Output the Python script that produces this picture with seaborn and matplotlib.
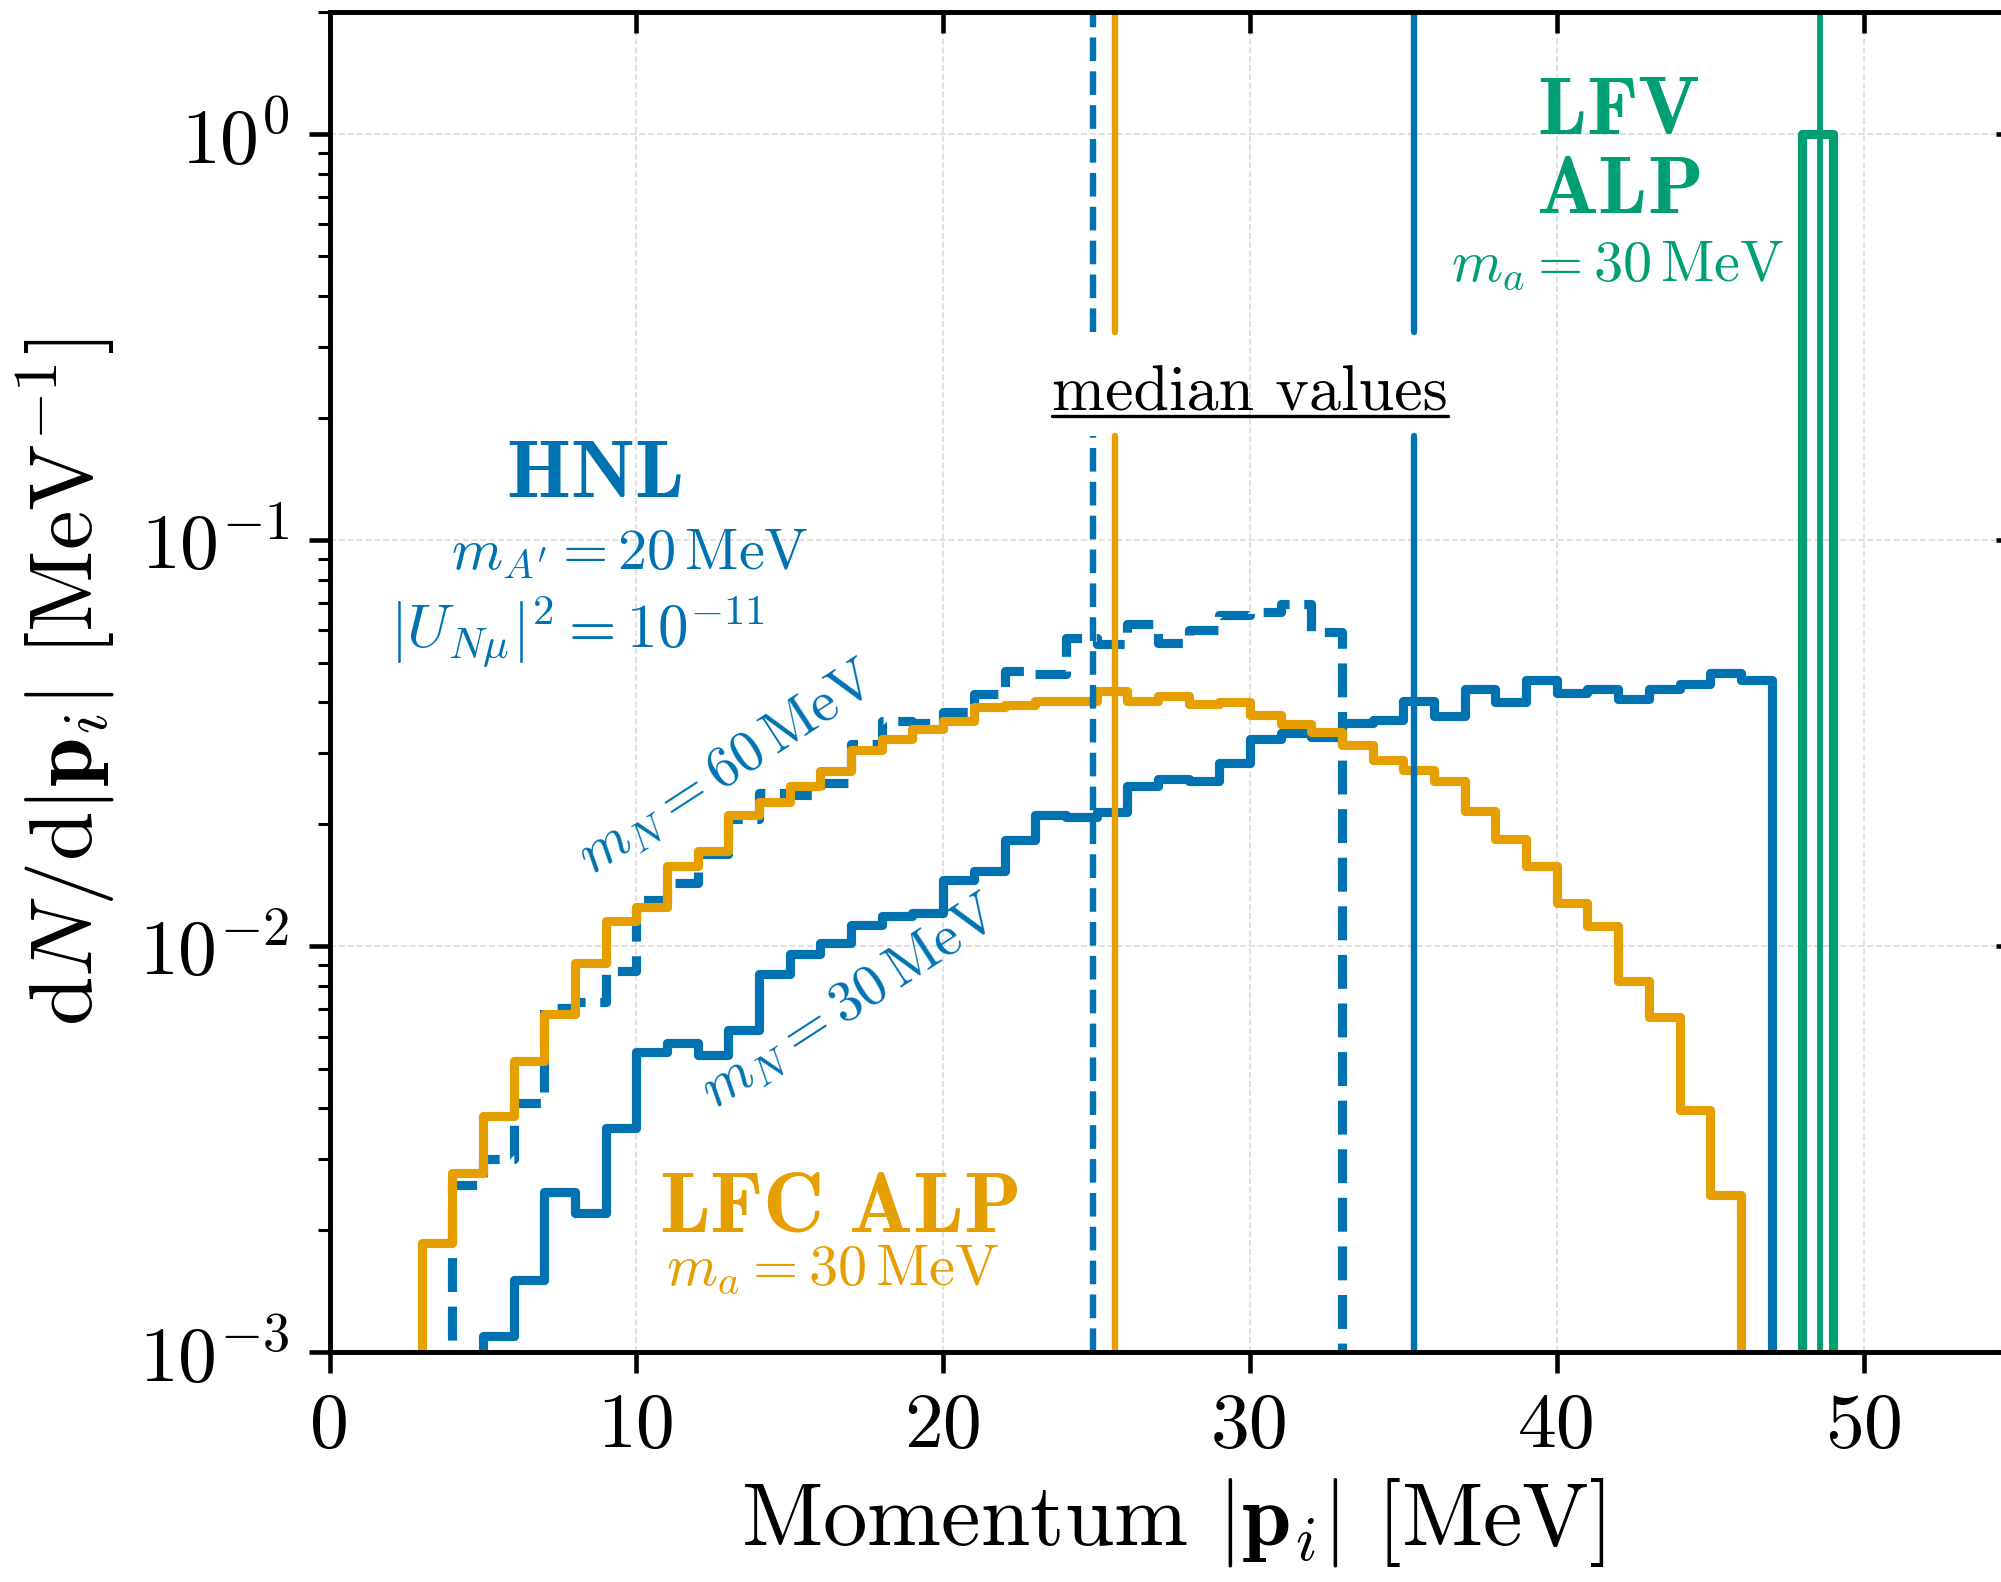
import numpy as np
import pandas as pd
import seaborn as sns
import matplotlib.pyplot as plt
from matplotlib.lines import Line2D
from matplotlib.ticker import LogLocator, NullFormatter

# ==========================================
# data: 1 MeV bins, values in MeV^-1
# ==========================================
hnl30_start = 4
hnl30_vals = [0, 0.00110, 0.00151, 0.00249, 0.00221, 0.00358, 0.00549, 0.00578,
              0.00541, 0.00621, 0.00855, 0.00958, 0.01019, 0.0113, 0.0119, 0.0121,
              0.0146, 0.0153, 0.0183, 0.0211, 0.0208, 0.0214, 0.0249, 0.0259,
              0.0256, 0.0283, 0.0325, 0.0335, 0.0327, 0.0355, 0.0362, 0.0402,
              0.0369, 0.0431, 0.0399, 0.0454, 0.0420, 0.0431, 0.0406, 0.0431,
              0.0443, 0.0472, 0.0452, 0]

hnl60_start = 3
hnl60_vals = [0, 0.00259, 0.0030, 0.00411, 0.00704, 0.0073, 0.0087, 0.0130,
              0.0143, 0.0169, 0.0206, 0.0238, 0.0236, 0.0252, 0.0316, 0.0358,
              0.0355, 0.0378, 0.0419, 0.0478, 0.0469, 0.0574, 0.0554, 0.0621,
              0.0558, 0.0600, 0.0656, 0.0665, 0.0697, 0.0594, 0]

lfc_start = 2
lfc_vals = [0, 0.00186, 0.00277, 0.00382, 0.00521, 0.00680, 0.00910, 0.01155,
            0.01253, 0.0158, 0.0172, 0.0211, 0.0227, 0.0249, 0.0270, 0.0305,
            0.0325, 0.0344, 0.0359, 0.0388, 0.0392, 0.0402, 0.0402, 0.0425,
            0.0402, 0.0413, 0.0396, 0.0400, 0.0371, 0.0353, 0.0337, 0.0313,
            0.0287, 0.0272, 0.0255, 0.0215, 0.0184, 0.0158, 0.0128, 0.01125,
            0.00822, 0.00669, 0.00395, 0.00244, 0]

lfv_start = 47
lfv_vals = [0, 1.0, 0]

# median momenta [MeV]
median_hnl60 = 24.9
median_lfc = 25.6
median_hnl30 = 35.35
median_lfv = 48.57

xticks = [0, 10, 20, 30, 40, 50]
xtick_labels = ['0', '10', '20', '30', '40', '50']
yticks = [1e-3, 1e-2, 1e-1, 1e0]
ytick_labels = [r'$10^{-3}$', r'$10^{-2}$', r'$10^{-1}$', r'$10^{0}$']

BLUE = '#0072B2'
ORANGE = '#E69F00'
GREEN = '#009E73'

# ==========================================
# style
# ==========================================
sns.set_theme(style='ticks')
plt.rcParams.update({
    'font.family': 'serif',
    'font.serif': ['cmr10'],
    'mathtext.fontset': 'cm',
    'axes.unicode_minus': False,
    'axes.formatter.use_mathtext': True,
    'axes.linewidth': 3.3,
    'axes.edgecolor': 'black',
    'axes.labelcolor': 'black',
    'text.color': 'black',
    'xtick.color': 'black',
    'ytick.color': 'black',
})

fig = plt.figure(figsize=(20.01, 15.82), dpi=100)
ax = fig.add_axes([0.16467, 0.14507, 0.84333, 0.84734])

LW = 6.6


def draw_hist(start, vals, **kw):
    edges = [float(start + i) for i in range(len(vals) + 1)]
    df = pd.DataFrame({'p': [e + 0.5 for e in edges[:-1]],
                       'w': [float(v) for v in vals]})
    sns.histplot(data=df, x='p', weights='w', bins=edges, element='step',
                 fill=False, ax=ax, lw=LW, **kw)


draw_hist(hnl30_start, hnl30_vals, color=BLUE)
draw_hist(hnl60_start, hnl60_vals, color=BLUE, ls='--')
draw_hist(lfc_start, lfc_vals, color=ORANGE)
draw_hist(lfv_start, lfv_vals, color=GREEN)

# median lines, interrupted around the "median values" label
gap_lo, gap_hi = 0.6837, 0.7613
for m, col, ls in [(median_hnl60, BLUE, '--'),
                   (median_lfc, ORANGE, '-'),
                   (median_hnl30, BLUE, '-')]:
    ax.axvline(m, ymin=0, ymax=gap_lo, color=col, ls=ls, lw=4.6)
    ax.axvline(m, ymin=gap_hi, ymax=1, color=col, ls=ls, lw=4.6)
ax.axvline(median_lfv, color=GREEN, lw=4.2)

ax.set_yscale('log')
ax.set_xlim(0, 55)
ax.set_ylim(1e-3, 2)

ax.set_xticks(xticks, labels=xtick_labels)
ax.set_yticks(yticks, labels=ytick_labels)
ax.yaxis.set_minor_locator(LogLocator(base=10, subs=np.arange(2, 10)))
ax.yaxis.set_minor_formatter(NullFormatter())
ax.tick_params(axis='both', which='major', direction='out', length=15,
               width=3.3, labelsize=56, pad=14, colors='black')
ax.tick_params(axis='y', which='minor', direction='out', length=9, width=2.2,
               colors='black')
ax.tick_params(axis='x', which='minor', bottom=False, top=False)

ax.grid(True, which='major', ls='--', lw=1.2, color='#dcdcdc')
ax.set_axisbelow(True)

# inward ticks on the top edge
tick_frac = 21.0 / 1340.5
for xt in xticks:
    ax.plot([xt, xt], [1.0, 1.0 - tick_frac], transform=ax.get_xaxis_transform(),
            color='black', lw=3.3, solid_capstyle='butt', clip_on=False, zorder=5)

# inward ticks on the right edge, via a twin axis
axr = ax.twinx()
axr.set_yscale('log')
axr.set_ylim(ax.get_ylim())
axr.set_yticks(yticks, labels=[''] * len(yticks))
axr.yaxis.set_minor_locator(LogLocator(base=10, subs=np.arange(2, 10)))
axr.yaxis.set_minor_formatter(NullFormatter())
axr.tick_params(axis='y', which='major', direction='in', length=15, width=3.3,
                right=True, left=False, labelright=False, colors='black')
axr.tick_params(axis='y', which='minor', direction='in', length=9, width=2.2,
                right=True, left=False, colors='black')

ax.set_xlabel(r'Momentum $|\mathbf{p}_i|$ [MeV]', fontsize=64, labelpad=10)
ax.set_ylabel(r'$\mathrm{d}N/\mathrm{d}|\mathbf{p}_i|\ [\mathrm{MeV}^{-1}]$',
              fontsize=64, labelpad=16)

# annotations
BOLD = 59
PAR = 42
ax.text(42.0, 1.0, r'$\mathbf{LFV}$', color=GREEN, fontsize=BOLD, ha='center', va='baseline')
ax.text(42.0, 0.640, r'$\mathbf{ALP}$', color=GREEN, fontsize=BOLD, ha='center', va='baseline')
ax.text(41.97, 0.4355, r'$m_a = 30\,\mathrm{MeV}$', color=GREEN, fontsize=PAR,
        ha='center', va='baseline')

ax.text(8.62, 0.1281, r'$\mathbf{HNL}$', color=BLUE, fontsize=BOLD, ha='center', va='baseline')
ax.text(9.79, 0.0852, r"$m_{A'} = 20\,\mathrm{MeV}$", color=BLUE, fontsize=PAR,
        ha='center', va='baseline')
ax.text(8.08, 0.05453, r'$|U_{N\mu}|^2 = 10^{-11}$', color=BLUE, fontsize=44,
        ha='center', va='baseline')
ax.text(12.99, 0.02742, r'$m_N = 60\,\mathrm{MeV}$', color=BLUE, fontsize=PAR,
        rotation=33, rotation_mode='anchor', ha='center', va='center')
ax.text(17.0, 0.00729, r'$m_N = 30\,\mathrm{MeV}$', color=BLUE, fontsize=PAR,
        rotation=33, rotation_mode='anchor', ha='center', va='center')

ax.text(16.61, 0.001983, r'$\mathbf{LFC\ ALP}$', color=ORANGE, fontsize=BOLD + 2,
        ha='center', va='baseline')
ax.text(16.38, 0.001466, r'$m_a = 30\,\mathrm{MeV}$', color=ORANGE, fontsize=PAR,
        ha='center', va='baseline')

med = ax.text(30.0, 0.2085, 'median values', color='black', fontsize=46,
              ha='center', va='baseline')

# underline the "median values" label
fig.canvas.draw()
bb = med.get_window_extent().transformed(fig.transFigure.inverted())
base_y = ax.transData.transform((30.0, 0.2085))[1]
uy = fig.transFigure.inverted().transform((0, base_y - 5))[1]
fig.add_artist(Line2D([bb.x0, bb.x1], [uy, uy], color='black', lw=2.4,
                      transform=fig.transFigure))

fig.savefig('out.png', dpi=100)
plt.close(fig)
